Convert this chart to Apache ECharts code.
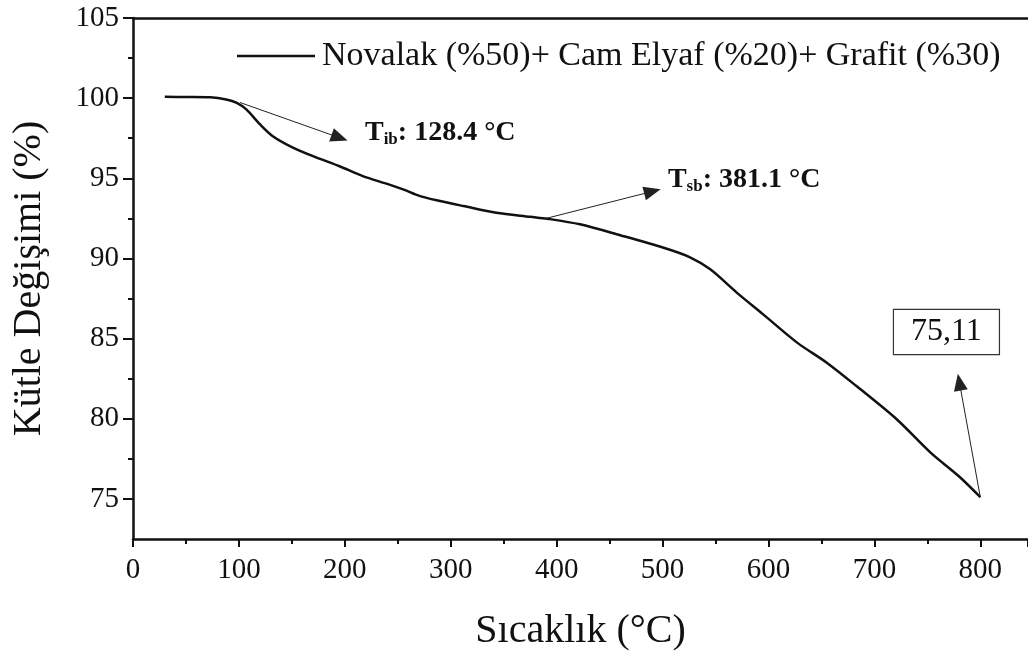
<!DOCTYPE html>
<html>
<head>
<meta charset="utf-8">
<script src="https://cdn.jsdelivr.net/npm/echarts@6/dist/echarts.min.js"></script>
<style>html,body{margin:0;padding:0;background:#fff}#c{width:1028px;height:651px}</style>
</head>
<body>
<div id="c"></div>
<script>
const seriesName = 'Novalak (%50)+ Cam Elyaf (%20)+ Grafit (%30)';
const temperature = [30, 50, 73, 88, 98, 107, 120, 132, 150, 170, 195, 217, 240, 255, 271, 290, 312, 343, 375, 391, 422, 460, 501, 525, 545, 570, 595, 627, 655, 683, 721, 753, 780, 800];
const massPct = [100.08, 100.07, 100.05, 99.92, 99.71, 99.3, 98.36, 97.63, 96.95, 96.38, 95.75, 95.14, 94.65, 94.31, 93.89, 93.58, 93.27, 92.85, 92.6, 92.48, 92.13, 91.45, 90.67, 90.1, 89.32, 87.87, 86.51, 84.75, 83.5, 82.04, 79.97, 77.89, 76.4, 75.11];
const yMajorTicks = [75, 80, 85, 90, 95, 100, 105];
const yMinorTicks = [77.5, 82.5, 87.5, 92.5, 97.5, 102.5];
const endValueLabel = '75,11';

const FONT = '"Liberation Serif", "Times New Roman", serif';
const data = temperature.map((t, i) => [t, massPct[i]]);

const chart = echarts.init(document.getElementById('c'), null, {renderer: 'canvas'});
const option = {
  animation: false,
  backgroundColor: '#fff',
  grid: {left: 133, top: 18, right: 0, bottom: 112, containLabel: false, outerBoundsMode: 'none'},
  legend: {
    data: [{name: seriesName, icon: 'rect'}],
    left: 232, top: 34,
    itemWidth: 78, itemHeight: 2.5, itemGap: 0,
    itemStyle: {color: '#111'},
    textStyle: {fontFamily: FONT, fontSize: 34, color: '#111', padding: [0, 0, 0, 2]}
  },
  xAxis: [{
    type: 'value', min: 0, max: 845, interval: 100,
    name: 'Sıcaklık (°C)', nameLocation: 'middle', nameGap: 72,
    nameTextStyle: {fontFamily: FONT, fontSize: 40, color: '#111'},
    axisLine: {show: true, lineStyle: {color: '#111', width: 2.5}},
    axisTick: {show: true, length: 8, lineStyle: {color: '#111', width: 2}},
    minorTick: {show: true, splitNumber: 2, length: 5, lineStyle: {color: '#111', width: 2}},
    axisLabel: {fontFamily: FONT, fontSize: 29, color: '#111', margin: 17,
      formatter: v => (v <= 800 ? String(v) : '')},
    splitLine: {show: false}
  }, {
    type: 'value', position: 'top', min: 0, max: 845,
    axisLine: {show: true, lineStyle: {color: '#111', width: 2.5}},
    axisTick: {show: false}, axisLabel: {show: false}, splitLine: {show: false}
  }],
  yAxis: [{
    type: 'value', min: 72.5, max: 105,
    name: 'Kütle Değişimi (%)', nameLocation: 'middle', nameGap: 84,
    nameTextStyle: {fontFamily: FONT, fontSize: 40, color: '#111'},
    axisLine: {show: true, lineStyle: {color: '#111', width: 2.5}},
    axisTick: {show: true, length: 10, customValues: yMajorTicks, lineStyle: {color: '#111', width: 2}},
    axisLabel: {fontFamily: FONT, fontSize: 29, color: '#111', margin: 14, customValues: yMajorTicks},
    splitLine: {show: false}
  }, {
    type: 'value', position: 'left', min: 72.5, max: 105,
    axisLine: {show: false},
    axisTick: {show: true, length: 5, customValues: yMinorTicks, lineStyle: {color: '#111', width: 2}},
    axisLabel: {show: false}, splitLine: {show: false}
  }],
  series: [{
    name: seriesName,
    type: 'line',
    data: data,
    smooth: 0.3,
    symbol: 'none',
    lineStyle: {color: '#111', width: 2.5},
    itemStyle: {color: '#111'},
    markLine: {
      silent: true,
      symbol: ['none', 'triangle'],
      symbolSize: [14, 17],
      label: {show: false},
      lineStyle: {color: '#222', width: 1, type: 'solid'},
      itemStyle: {color: '#111'},
      data: [
        [{coord: [101, 99.73]}, {coord: [195, 97.53]}],
        [{coord: [390, 92.5]}, {coord: [490.4, 94.18]}],
        [{coord: [800, 75.1]}, {coord: [780.2, 82.28]}]
      ]
    },
    markPoint: {
      silent: true,
      symbol: 'circle', symbolSize: 0,
      data: [
        {coord: [219, 97.86], label: {show: true, position: 'right', distance: 0,
          formatter: '{t|T}{s|ib}{t|: 128.4 °C}',
          rich: {t: {fontFamily: FONT, fontSize: 28, fontWeight: 'bold', color: '#111'},
                 s: {fontFamily: FONT, fontSize: 17, fontWeight: 'bold', color: '#111', padding: [14, 0, 0, 0]}}}},
        {coord: [505, 94.93], label: {show: true, position: 'right', distance: 0,
          formatter: '{t|T}{s|sb}{t|: 381.1 °C}',
          rich: {t: {fontFamily: FONT, fontSize: 28, fontWeight: 'bold', color: '#111'},
                 s: {fontFamily: FONT, fontSize: 17, fontWeight: 'bold', color: '#111', padding: [14, 0, 0, 0]}}}},
        {coord: [768, 85.41], label: {show: true, position: 'inside',
          formatter: endValueLabel,
          fontFamily: FONT, fontSize: 32, color: '#111',
          borderColor: '#333', borderWidth: 1.2, padding: [7, 17, 5, 17], backgroundColor: '#fff'}}
      ]
    }
  }]
};
chart.setOption(option);
</script>
</body>
</html>
